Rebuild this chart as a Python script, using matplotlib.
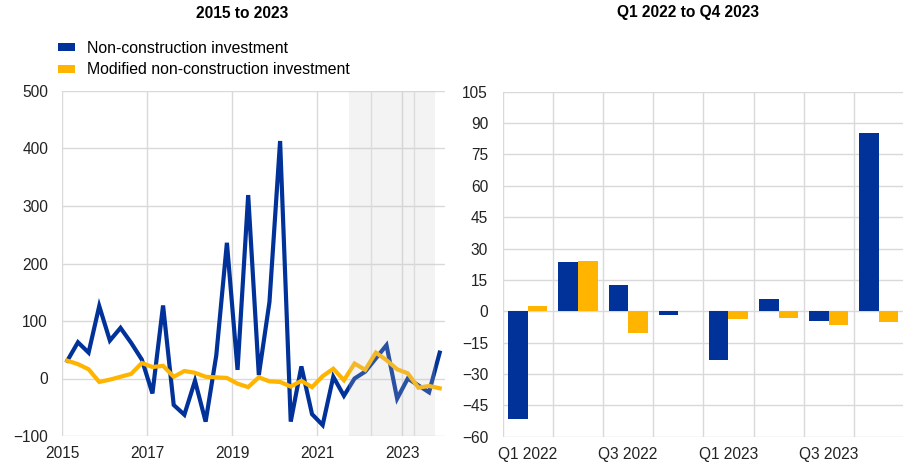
import matplotlib
matplotlib.use("Agg")
import matplotlib.pyplot as plt
from matplotlib.patches import Patch
import numpy as np

plt.rcParams['font.family'] = ['Liberation Sans', 'DejaVu Sans']

BLUE = '#003299'
YELLOW = '#FFB400'
GRID = '#d9d9d9'

# ---- Left panel data: quarterly, Q1 2015 .. Q4 2023 ----
start_year = 2015
non_construction = [31, 63, 45, 126, 66, 88, 62, 33, -26, 127, -46, -63,
                     -4, -75, 40, 236, 15, 319, 6, 133, 413, -75, 21, -62,
                     -81, 3, -30, 0, 12, 35, 58, -35, 0, -12, -24, 45]
modified_non_construction = [31, 25, 16, -6, -2, 3, 8, 27, 20, 22, 3, 13,
                             10, 3, 2, 1, -9, -15, 2, -5, -6, -14, -4, -15,
                             4, 17, -3, 26, 15, 45, 32, 16, 9, -16, -13, -17]
left_xticks = [2015, 2017, 2019, 2021, 2023]
left_yticks = [-100, 0, 100, 200, 300, 400, 500]
shade_span = (2021.75, 2023.77)

# ---- Right panel data ----
quarters = ['Q1 2022', 'Q2 2022', 'Q3 2022', 'Q4 2022',
            'Q1 2023', 'Q2 2023', 'Q3 2023', 'Q4 2023']
bar_non_construction = [-51.5, 23.4, 12.4, -1.9, -23.3, 5.7, -4.8, 85.3]
bar_modified = [2.7, 24.1, -10.5, 0.0, -3.8, -3.3, -6.5, -5.1]
right_yticks = list(range(-60, 106, 15))

series_labels = ['Non-construction investment', 'Modified non-construction investment']

TICK_FS = 11.2
fig = plt.figure(figsize=(9.04, 4.66), dpi=100)

# Left axes
axL = fig.add_axes([62 / 904, 1 - 436 / 466, (445 - 62) / 904, (436 - 91) / 466])
n = len(non_construction)
x = start_year + 0.125 + 0.25 * np.arange(n)
axL.plot(x, non_construction, color=BLUE, lw=3.0, solid_joinstyle='miter', zorder=3)
axL.plot(x, modified_non_construction, color=YELLOW, lw=3.0, solid_joinstyle='miter', zorder=4)
for xv in [2022.25, 2023.26]:
    axL.axvline(xv, color='#e2e2e2', lw=1.0, zorder=1)
axL.axvspan(shade_span[0], shade_span[1], color='#c7c7c7', alpha=0.21, lw=0, zorder=5)
axL.set_xlim(2015, 2024)
axL.set_ylim(-100, 500)
axL.set_xticks(left_xticks)
axL.set_xticklabels([str(v) for v in left_xticks])
axL.set_yticks(left_yticks)
axL.grid(True, color=GRID, lw=1.0, zorder=0)
axL.set_axisbelow(True)
for s in axL.spines.values():
    s.set_visible(False)
axL.tick_params(length=0, labelsize=TICK_FS, colors='#222222')
axL.tick_params(axis='y', pad=10)
axL.tick_params(axis='x', pad=7.5)

fig.text(242 / 904, 1 - 13 / 466, '2015 to 2023', ha='center', va='center',
         fontsize=11.2, fontweight='bold')

handles = [Patch(facecolor=BLUE, edgecolor='none'), Patch(facecolor=YELLOW, edgecolor='none')]
fig.legend(handles, series_labels, loc='upper left',
           bbox_to_anchor=(58 / 904, 1 - 41 / 466), frameon=False,
           fontsize=11.4, handlelength=1.1, handleheight=0.42, handletextpad=0.72,
           labelspacing=0.4, borderpad=0, borderaxespad=0)

# Right axes
axR = fig.add_axes([502.7 / 904, 1 - 436.7 / 466, (904 - 502.7) / 904, (436.7 - 91.7) / 466])
pos = np.arange(len(quarters))
w = 0.39
axR.bar(pos - w / 2, bar_non_construction, width=w, color=BLUE, zorder=3)
axR.bar(pos + w / 2, bar_modified, width=w, color=YELLOW, zorder=3)
axR.set_xlim(-0.5, len(quarters) - 0.5)
axR.set_ylim(-60, 105)
axR.set_yticks(right_yticks)
axR.set_xticks(pos[::2])
axR.set_xticklabels(quarters[::2])
axR.set_xticks(np.arange(-0.5, len(quarters) - 0.5, 1.0), minor=True)
axR.grid(False)
axR.grid(True, which='minor', axis='x', color=GRID, lw=1.0, zorder=0)
axR.grid(True, which='major', axis='y', color=GRID, lw=1.0, zorder=0)
axR.set_axisbelow(True)
for s in axR.spines.values():
    s.set_visible(False)
axR.tick_params(which='both', length=0, labelsize=TICK_FS, colors='#222222')
axR.tick_params(axis='y', pad=10.5)
axR.tick_params(axis='x', pad=7.5)

fig.text(688 / 904, 1 - 13 / 466, 'Q1 2022 to Q4 2023', ha='center', va='center',
         fontsize=11.2, fontweight='bold')

fig.savefig('out.png', dpi=100)
